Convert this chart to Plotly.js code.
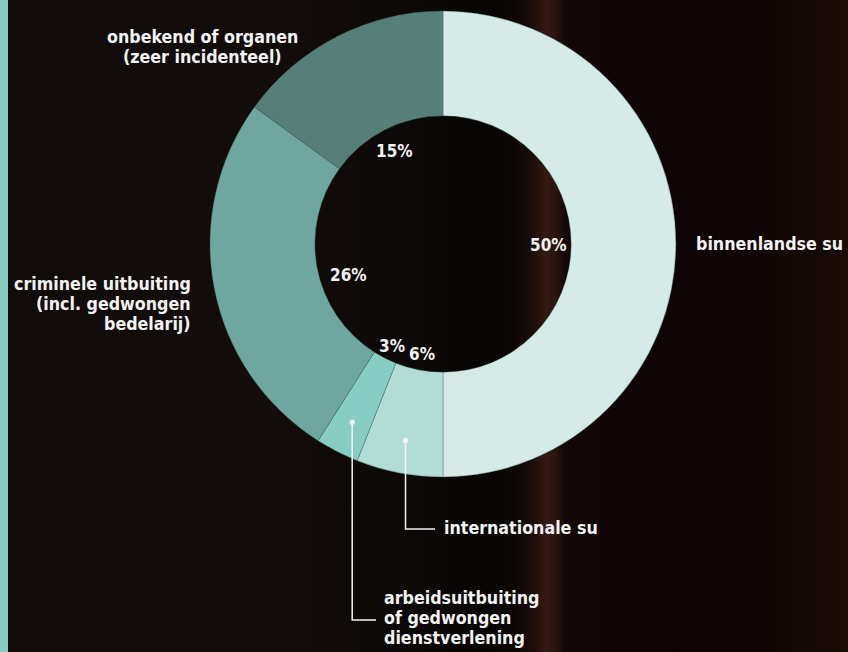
<!DOCTYPE html>
<html>
<head>
<meta charset="utf-8">
<script src="https://cdn.plot.ly/plotly-3.0.1.min.js"></script>
<style>
  html, body { margin: 0; padding: 0; }
  body { width: 848px; height: 652px; overflow: hidden;
    background: linear-gradient(to right, #88cdc4 0px, #88cdc4 8px, #110c0a 8px, #120c0a 280px, #0c0807 420px, #070404 480px, #0d0605 515px, #1a0c09 532px, #341a13 546px, #2b1510 555px, #120606 566px, #0e0405 680px, #120604 780px, #1a0b05 848px); }
  #chart { width: 848px; height: 652px; }
</style>
</head>
<body>
<div id="chart"></div>
<script>
// ---- data ----
const categories = [
  'binnenlandse su',
  'internationale su',
  'arbeidsuitbuiting of gedwongen dienstverlening',
  'criminele uitbuiting (incl. gedwongen bedelarij)',
  'onbekend of organen (zeer incidenteel)'
];
const shares = [50, 6, 3, 26, 15];
const sliceColors = ['#d6eae7', '#b2ddd6', '#88cdc4', '#70a6a0', '#577f79'];
const pctLabels = shares.map(v => v + '%');

// label lines shown around the chart
const labelBinnen = ['binnenlandse su'];
const labelInter = ['internationale su'];
const labelArbeid = ['arbeidsuitbuiting', 'of gedwongen', 'dienstverlening'];
const labelCrimi = ['criminele uitbuiting', '(incl. gedwongen', 'bedelarij)'];
const labelOnbek = ['onbekend of organen', '(zeer incidenteel)'];

// ---- layout geometry ----
const W = 848, H = 652;
const CX = 443, CY = 244, R = 233;
const HOLE = 0.55;
const px = x => x / W;
const py = y => 1 - y / H;
const FONT = 'DejaVu Sans Condensed, DejaVu Sans, sans-serif';
const WHITE = '#f3f3f3';

const trace = {
  type: 'pie',
  labels: categories,
  values: shares,
  sort: false,
  direction: 'clockwise',
  rotation: 0,
  hole: HOLE,
  textinfo: 'none',
  hoverinfo: 'skip',
  showlegend: false,
  marker: { colors: sliceColors, line: { color: 'rgba(60,100,95,0.55)', width: 0.7 } },
  domain: { x: [px(CX - R), px(CX + R)], y: [py(CY + R), py(CY - R)] }
};

// slice mid angles (clockwise from 12 o'clock) from the data
const total = shares.reduce((a, b) => a + b, 0);
let cum = 0;
const midAngles = shares.map(v => { const m = (cum + v / 2) / total * 2 * Math.PI; cum += v; return m; });
const polar = (ang, r) => [CX + Math.sin(ang) * r, CY - Math.cos(ang) * r];

const annotations = [];
// percentage labels inside the hole
const pctR = [105, 111, 113, 99, 106];
const pctShift = [0, 0, 0, -7, 0]; // degrees
shares.forEach((v, i) => {
  const [x, y] = polar(midAngles[i] + pctShift[i] * Math.PI / 180, pctR[i]);
  annotations.push({ xref: 'paper', yref: 'paper', x: px(x), y: py(y + 1), text: pctLabels[i],
    showarrow: false, xanchor: 'center', yanchor: 'middle',
    font: { family: FONT, size: 17, color: WHITE, weight: 'bold' } });
});

function addLines(lines, x, y0, anchor) {
  lines.forEach((t, k) => {
    annotations.push({ xref: 'paper', yref: 'paper', x: px(x), y: py(y0 + k * 20), text: t,
      showarrow: false, xanchor: anchor, yanchor: 'middle',
      font: { family: FONT, size: 17.7, color: WHITE, weight: 'bold' } });
  });
}
addLines(labelBinnen, 694, 244, 'left');
addLines(labelOnbek, 202, 37, 'center');
addLines(labelCrimi, 193, 284, 'right');
addLines(labelInter, 442, 528, 'left');
addLines(labelArbeid, 382, 598, 'left');

// leader lines with dots at the slices (interna = index 1, arbeid = index 2)
const shapes = [];
function leader(idx, yEnd, xEnd) {
  const [dx, dy] = polar(midAngles[idx], 200);
  shapes.push({ type: 'path', xref: 'paper', yref: 'paper',
    path: `M ${px(dx)} ${py(dy)} L ${px(dx)} ${py(yEnd)} L ${px(xEnd)} ${py(yEnd)}`,
    line: { color: WHITE, width: 1.5 } });
  shapes.push({ type: 'circle', xref: 'paper', yref: 'paper',
    x0: px(dx - 2.6), x1: px(dx + 2.6), y0: py(dy + 2.6), y1: py(dy - 2.6),
    fillcolor: WHITE, line: { width: 0 } });
}
leader(1, 529, 435);
leader(2, 620, 376);

const layout = {
  width: W, height: H,
  margin: { l: 0, r: 0, t: 0, b: 0 },
  paper_bgcolor: 'rgba(0,0,0,0)',
  plot_bgcolor: 'rgba(0,0,0,0)',
  showlegend: false,
  annotations: annotations,
  shapes: shapes
};

Plotly.newPlot('chart', [trace], layout, { staticPlot: true, displayModeBar: false });
</script>
</body>
</html>
